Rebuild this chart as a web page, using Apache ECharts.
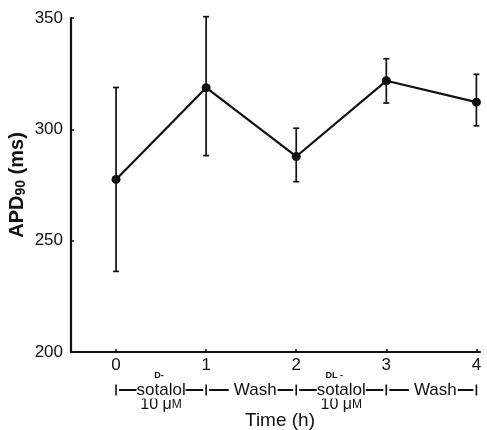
<!DOCTYPE html>
<html><head><meta charset="utf-8">
<script src="https://cdn.jsdelivr.net/npm/echarts@6/dist/echarts.min.js"></script>
<style>html,body{margin:0;padding:0;background:#fff}#c{width:487px;height:430px}</style>
</head><body><div id="c"></div>
<script>
var hours = [0, 1, 2, 3, 4];
var apdMean = [277.5, 318.7, 287.8, 321.8, 312.2];
var apdUpper = [318.8, 350.6, 300.5, 331.7, 324.7];
var apdLower = [236.2, 288.2, 276.5, 311.8, 301.6];
var yTicks = [200, 250, 300, 350];
var periodCenters = [0.5, 1.5, 2.5, 3.5];
var periodNames = ['sotalol', 'Wash', 'sotalol', 'Wash'];
var periodPrefix = ['D-', '', 'DL -', ''];
var periodDose = ['10 μ', '', '10 μ', ''];

var FONT = 'Liberation Sans, Arial, sans-serif';
var chart = echarts.init(document.getElementById('c'), null, {renderer: 'canvas'});
var opt = {
  animation: false,
  grid: {left: 71, right: 7, top: 18, bottom: 78, outerBoundsMode: 'none', containLabel: false},
  xAxis: {
    type: 'value', min: -0.5, max: 4.04,
    axisLine: {onZero: false, lineStyle: {color: '#111', width: 2.2}},
    axisTick: {inside: true, length: 3, customValues: hours, lineStyle: {color: '#111', width: 1.5}},
    splitLine: {show: false},
    axisLabel: {
      color: '#111', fontSize: 17, fontFamily: FONT, margin: 5,
      customValues: hours, formatter: function (v) { return String(v); }
    }
  },
  yAxis: {
    type: 'value', min: 200, max: 350, interval: 50,
    axisLine: {show: true, onZero: false, lineStyle: {color: '#111', width: 2.2}},
    axisTick: {show: true, inside: true, length: 3, lineStyle: {color: '#111', width: 1.5}},
    splitLine: {show: false},
    axisLabel: {color: '#111', fontSize: 17, fontFamily: FONT, margin: 8,
      formatter: function (v) { return yTicks.indexOf(v) >= 0 ? String(v) : ''; }},
    name: '{a|APD}{s|90}{a| (ms)}',
    nameLocation: 'middle', nameRotate: 90, nameGap: 43, nameMoveOverlap: false,
    nameTextStyle: {
      rich: {
        a: {fontSize: 20, fontWeight: 'bold', fontFamily: FONT, color: '#111'},
        s: {fontSize: 14, fontWeight: 'bold', fontFamily: FONT, color: '#111', verticalAlign: 'bottom', padding: [7, 0, 0, 0]}
      }
    }
  },
  series: [
    {
      type: 'custom',
      data: hours.map(function (h, i) { return [h, apdLower[i], apdUpper[i]]; }),
      renderItem: function (params, api) {
        var lo = api.coord([api.value(0), api.value(1)]);
        var hi = api.coord([api.value(0), api.value(2)]);
        var w = 3;
        var st = {stroke: '#111', lineWidth: 1.7};
        return {type: 'group', children: [
          {type: 'line', shape: {x1: lo[0], y1: lo[1], x2: hi[0], y2: hi[1]}, style: st},
          {type: 'line', shape: {x1: lo[0] - w, y1: lo[1], x2: lo[0] + w, y2: lo[1]}, style: st},
          {type: 'line', shape: {x1: hi[0] - w, y1: hi[1], x2: hi[0] + w, y2: hi[1]}, style: st}
        ]};
      },
      z: 2
    },
    {
      type: 'line',
      data: hours.map(function (h, i) { return [h, apdMean[i]]; }),
      symbol: 'circle', symbolSize: 9,
      itemStyle: {color: '#111'},
      lineStyle: {color: '#111', width: 2.2},
      z: 3
    }
  ]
};
chart.setOption(opt);

var g = [];
var rowY = 390;
var x0 = chart.convertToPixel({xAxisIndex: 0}, hours[0]);
var x4 = chart.convertToPixel({xAxisIndex: 0}, hours[hours.length - 1]);
g.push({type: 'line', shape: {x1: x0, y1: rowY, x2: x4, y2: rowY}, style: {stroke: '#111', lineWidth: 1.8}, z: 1});
hours.forEach(function (h) {
  var p = chart.convertToPixel({xAxisIndex: 0}, h);
  g.push({type: 'rect', shape: {x: p - 3, y: rowY - 3, width: 6, height: 6}, style: {fill: '#fff'}, z: 2});
  g.push({type: 'line', shape: {x1: p, y1: rowY - 5.5, x2: p, y2: rowY + 5.5}, style: {stroke: '#111', lineWidth: 1.6}, z: 3});
});
periodCenters.forEach(function (c, i) {
  var p = chart.convertToPixel({xAxisIndex: 0}, c);
  var isWash = periodNames[i] === 'Wash';
  g.push({type: 'text', x: p + (isWash ? 2 : 0), y: rowY, z: 3, style: {text: periodNames[i], font: '17px ' + FONT, fill: '#111', align: 'center', verticalAlign: 'middle', backgroundColor: '#fff', padding: [0, isWash ? 1 : 0, 0, isWash ? 5 : 0]}});
  if (periodPrefix[i]) {
    g.push({type: 'text', x: p - (i === 0 ? 2 : 7), y: 376, style: {text: periodPrefix[i], font: 'bold 9px ' + FONT, fill: '#111', align: 'center', verticalAlign: 'middle'}});
  }
  if (periodDose[i]) {
    g.push({type: 'text', x: p, y: 405, style: {
      text: '{n|' + periodDose[i] + '}{m|M}', align: 'center', verticalAlign: 'middle',
      rich: {n: {font: '16px ' + FONT, fill: '#111'}, m: {font: '12px ' + FONT, fill: '#111'}}
    }});
  }
});
g.push({type: 'text', x: 280, y: 421, style: {text: 'Time (h)', font: '19px ' + FONT, fill: '#111', align: 'center', verticalAlign: 'middle'}});
chart.setOption({graphic: g});
</script>
</body></html>
